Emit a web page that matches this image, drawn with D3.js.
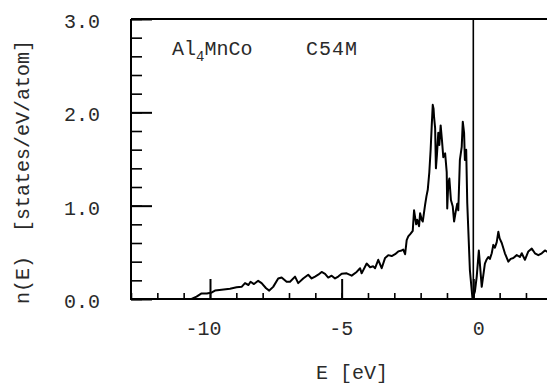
<!DOCTYPE html>
<html>
<head>
<meta charset="utf-8">
<script src="https://cdn.jsdelivr.net/npm/d3@7"></script>
<style>
  body { margin: 0; background: #fff; }
  text { font-family: "Liberation Mono", "Courier New", monospace; fill: #2a2a2a; }
</style>
</head>
<body>
<div class="container"></div>
<script>
// energies (eV, relative to E_F) and total DOS n(E)
const energy = [
  -10.70, -10.51, -10.32, -10.12, -9.93, -9.81, -9.56, -9.24, -8.99, -8.80,
  -8.67, -8.54, -8.46, -8.33, -8.17, -8.04, -7.87, -7.75, -7.60, -7.41,
  -7.28, -7.09, -6.96, -6.77, -6.65, -6.46, -6.27, -6.14, -6.01, -5.89,
  -5.76, -5.63, -5.51, -5.38, -5.25, -5.13, -5.00, -4.81, -4.62, -4.43,
  -4.30, -4.24, -4.05, -3.92, -3.80, -3.73, -3.61, -3.48, -3.35, -3.23,
  -3.10, -2.97, -2.85, -2.72, -2.66, -2.59, -2.53, -2.47, -2.38, -2.30,
  -2.25, -2.17, -2.13, -2.06, -2.02, -1.96, -1.92, -1.83, -1.78, -1.73,
  -1.67, -1.62, -1.58, -1.54, -1.51, -1.49, -1.45, -1.42, -1.38, -1.33,
  -1.29, -1.24, -1.19, -1.14, -1.07, -1.01, -0.99, -0.95, -0.91, -0.85,
  -0.78, -0.73, -0.66, -0.61, -0.57, -0.51, -0.44, -0.40, -0.35, -0.32,
  -0.27, -0.23, -0.13, -0.03, 0.06, 0.13, 0.21, 0.32, 0.44, 0.50,
  0.57, 0.63, 0.70, 0.76, 0.82, 0.89, 0.95, 1.00, 1.08, 1.20,
  1.33, 1.42, 1.52, 1.65, 1.77, 1.84, 1.96, 2.09, 2.22, 2.34,
  2.47, 2.60, 2.72, 2.85, 3.00
];
const dos = [
  0.00, 0.025, 0.06, 0.06, 0.07, 0.09, 0.10, 0.11, 0.125, 0.13,
  0.17, 0.15, 0.185, 0.16, 0.195, 0.17, 0.115, 0.09, 0.13, 0.22,
  0.23, 0.185, 0.185, 0.24, 0.17, 0.22, 0.26, 0.22, 0.24, 0.26,
  0.29, 0.27, 0.23, 0.25, 0.22, 0.24, 0.27, 0.275, 0.25, 0.29,
  0.33, 0.275, 0.38, 0.34, 0.35, 0.33, 0.42, 0.33, 0.44, 0.47,
  0.46, 0.48, 0.51, 0.52, 0.53, 0.48, 0.63, 0.67, 0.70, 0.73,
  0.95, 0.80, 0.85, 0.78, 0.92, 0.85, 0.83, 1.01, 1.10, 1.17,
  1.36, 1.60, 1.85, 2.08, 2.04, 1.95, 1.83, 1.40, 1.55, 1.78,
  1.65, 1.86, 1.70, 1.52, 1.56, 1.36, 0.97, 1.24, 1.29, 1.06,
  0.99, 0.83, 0.95, 1.02, 0.95, 1.49, 1.63, 1.90, 1.78, 1.49,
  1.60, 1.03, 0.31, 0.00, 0.08, 0.24, 0.52, 0.13, 0.38, 0.42,
  0.45, 0.43, 0.49, 0.58, 0.55, 0.61, 0.72, 0.65, 0.60, 0.49,
  0.40, 0.43, 0.44, 0.47, 0.45, 0.49, 0.42, 0.51, 0.54, 0.49,
  0.47, 0.49, 0.52, 0.50, 0.52
];

const xMajor = [-10, -5, 0];
const xMinor = d3.range(-13, 4, 1);
const yMajor = [0, 1, 2, 3];
const yMinor = d3.range(0, 3.01, 0.2);

const width = 547, height = 385;
const plotLeft = 131, plotTop = 19, plotBottom = 299, plotRight = 552.3;

const svg = d3.select('.container')
  .append('svg')
  .attr('width', width)
  .attr('height', height);

const x = d3.scaleLinear().domain([-13, 3]).range([plotLeft, plotRight]);
const y = d3.scaleLinear().domain([0, 3]).range([plotBottom, plotTop]);

svg.append('clipPath').attr('id', 'plot')
  .append('rect')
  .attr('x', plotLeft).attr('y', plotTop)
  .attr('width', plotRight - plotLeft).attr('height', plotBottom - plotTop);

// minor ticks, y (inside)
svg.append('g')
  .attr('transform', `translate(${plotLeft},0)`)
  .call(d3.axisLeft(y).tickValues(yMinor).tickSize(-11).tickFormat(''))
  .call(g => g.select('.domain').remove())
  .selectAll('line').attr('stroke-width', 1.6);

// major ticks + labels, y
svg.append('g')
  .attr('transform', `translate(${plotLeft},0)`)
  .call(d3.axisLeft(y).tickValues(yMajor).tickSize(-21).tickPadding(31)
    .tickFormat(d3.format('.1f')))
  .call(g => g.select('.domain').remove())
  .call(g => g.selectAll('line').attr('stroke-width', 2))
  .call(g => g.selectAll('text')
    .attr('font-size', 20)
    .attr('font-family', 'Liberation Mono')
    .attr('fill', '#2a2a2a')
    .attr('dy', '0.42em'));

// minor ticks, x
svg.append('g')
  .attr('transform', `translate(0,${plotBottom})`)
  .call(d3.axisBottom(x).tickValues(xMinor).tickSize(-6).tickFormat(''))
  .call(g => g.select('.domain').remove())
  .selectAll('line').attr('stroke-width', 1.6);

// major ticks + labels, x
svg.append('g')
  .attr('transform', `translate(0,${plotBottom})`)
  .call(d3.axisBottom(x).tickValues(xMajor).tickSize(-20).tickPadding(22)
    .tickFormat(d => String(d)))
  .call(g => g.select('.domain').remove())
  .call(g => g.selectAll('line').attr('stroke-width', 2))
  .call(g => g.selectAll('text')
    .attr('font-size', 20)
    .attr('font-family', 'Liberation Mono')
    .attr('fill', '#2a2a2a')
    .attr('text-anchor', 'end')
    .attr('dx', 11));

// frame: left, bottom, top
svg.append('path')
  .attr('d', `M${plotLeft},${plotTop}V${plotBottom}H${width}M${plotLeft},${plotTop}H${width}`)
  .attr('fill', 'none')
  .attr('stroke', '#000')
  .attr('stroke-width', 2);

// Fermi level
svg.append('line')
  .attr('x1', x(0)).attr('x2', x(0))
  .attr('y1', plotTop).attr('y2', plotBottom)
  .attr('stroke', '#000')
  .attr('stroke-width', 1.6);

// DOS curve
const line = d3.line()
  .x((d, i) => x(energy[i]))
  .y(d => y(d));

svg.append('path')
  .datum(dos)
  .attr('clip-path', 'url(#plot)')
  .attr('d', line)
  .attr('fill', 'none')
  .attr('stroke', '#000')
  .attr('stroke-width', 2)
  .attr('stroke-linejoin', 'round');

// labels
const label = svg.append('text')
  .attr('x', 172).attr('y', 55)
  .attr('font-size', 20);
label.append('tspan').text('Al');
label.append('tspan').attr('dy', 6).attr('font-size', 14).text('4');
label.append('tspan').attr('dy', -6).text('MnCo');

svg.append('text')
  .attr('x', 306).attr('y', 55)
  .attr('font-size', 20)
  .attr('letter-spacing', 1)
  .text('C54M');

svg.append('text')
  .attr('x', 352).attr('y', 379)
  .attr('text-anchor', 'middle')
  .attr('font-size', 20)
  .text('E [eV]');

svg.append('text')
  .attr('transform', 'translate(29,172) rotate(-90)')
  .attr('text-anchor', 'middle')
  .attr('font-size', 20)
  .style('white-space', 'pre')
  .text('n(E)  [states/eV/atom]');
</script>
</body>
</html>
